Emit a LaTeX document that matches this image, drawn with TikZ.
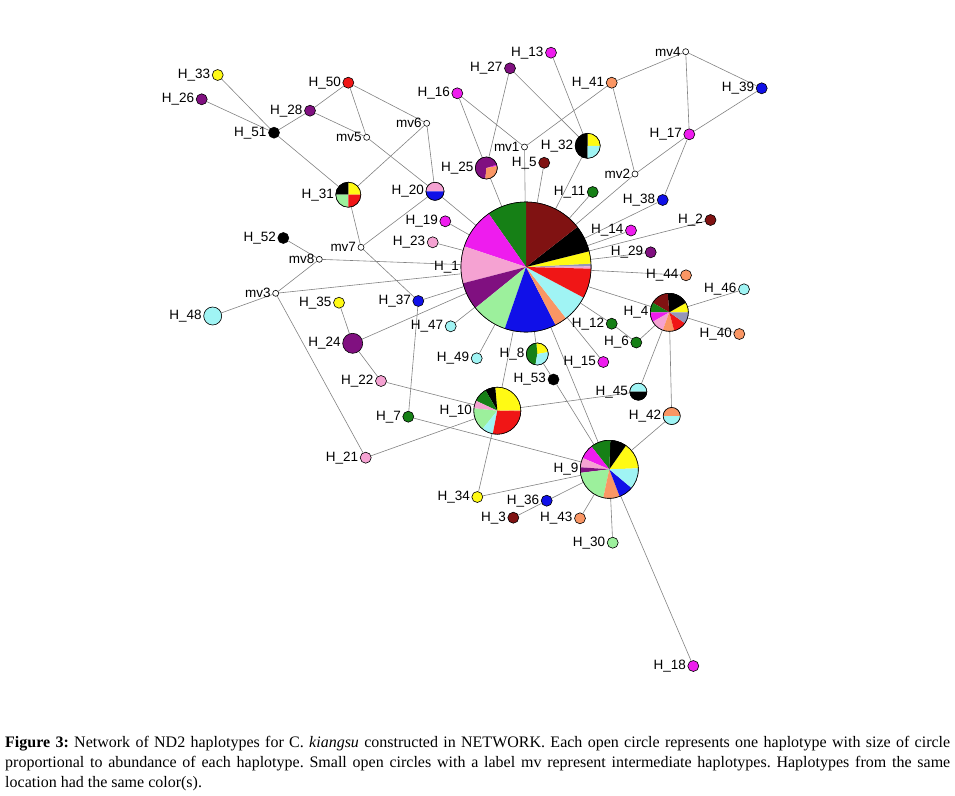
\documentclass[tikz,border=0pt]{standalone}
\usepackage{fontspec}
\setmainfont{Liberation Serif}
\setsansfont{Liberation Sans}
\usepackage{xcolor}
\usepackage{tikz}
\usetikzlibrary{backgrounds}
\definecolor{hyellow}{RGB}{255,250,20}
\definecolor{hpurple}{RGB}{128,16,128}
\definecolor{hred}{RGB}{240,22,22}
\definecolor{hmagenta}{RGB}{238,28,238}
\definecolor{hsalmon}{RGB}{250,150,100}
\definecolor{hblue}{RGB}{16,16,232}
\definecolor{hdarkred}{RGB}{128,18,18}
\definecolor{hgreen}{RGB}{22,128,22}
\definecolor{hpink}{RGB}{245,162,210}
\definecolor{hcyan}{RGB}{160,244,244}
\definecolor{hlightgreen}{RGB}{156,240,156}
\definecolor{hgray}{RGB}{150,150,186}
\definecolor{linkgray}{RGB}{130,130,130}

% wedges of a haplotype pie: node, radius, list start/end/colour
\newcommand{\piewedges}[3]{%
  \foreach \a/\b/\c in {#3}
    \fill[\c] (#1.center) -- ++(\a:#2) arc[start angle=\a, end angle=\b, radius=#2] -- cycle;
  \draw[line width=0.6pt] (#1.center) circle[radius=#2];
}

\begin{document}
\begin{tikzpicture}[
    x=1pt, y=1pt,
    hap/.style={circle, draw=black, line width=0.6pt, inner sep=0pt, minimum size=11pt},
    mv/.style={circle, draw=black, fill=white, line width=0.6pt, inner sep=0pt, minimum size=6pt},
    link/.style={draw=linkgray, line width=0.6pt},
    every label/.style={font=\sffamily\fontsize{13.5}{16}\selectfont, inner sep=0pt},
    label distance=1.5pt,
]
    \useasboundingbox (0,0) rectangle (955,-795);

    % single-colour haplotypes
    \node[hap, fill=hdarkred, label=left:H\_2] (h2) at (710.5,-220) {};
    \node[hap, fill=hdarkred, label=left:H\_3] (h3) at (513.3,-517.7) {};
    \node[hap, fill=hdarkred, label=left:H\_5] (h5) at (544.2,-162.8) {};
    \node[hap, fill=hgreen, label=left:H\_6] (h6) at (636.3,-342.5) {};
    \node[hap, fill=hgreen, label=left:H\_7] (h7) at (408.3,-416.7) {};
    \node[hap, fill=hgreen, label=left:H\_11] (h11) at (592.7,-192) {};
    \node[hap, fill=hgreen, label=left:H\_12] (h12) at (611.7,-323.7) {};
    \node[hap, fill=hmagenta, label=left:H\_13] (h13) at (551,-52.7) {};
    \node[hap, fill=hmagenta, label=left:H\_14] (h14) at (631,-230.5) {};
    \node[hap, fill=hmagenta, label=left:H\_15] (h15) at (603.3,-362) {};
    \node[hap, fill=hmagenta, label=left:H\_16] (h16) at (457.3,-93.3) {};
    \node[hap, fill=hmagenta, label=left:H\_17] (h17) at (689.3,-134.3) {};
    \node[hap, fill=hmagenta, label=left:H\_18] (h18) at (693.3,-666) {};
    \node[hap, fill=hmagenta, label=left:H\_19] (h19) at (445.3,-221.3) {};
    \node[hap, fill=hpink, label=left:H\_21] (h21) at (365.7,-457.7) {};
    \node[hap, fill=hpink, label=left:H\_22] (h22) at (381,-381) {};
    \node[hap, fill=hpink, label=left:H\_23] (h23) at (432.7,-242.3) {};
    \node[hap, fill=hpurple, minimum size=20pt, label=left:H\_24] (h24) at (352.7,-343.3) {};
    \node[hap, fill=hpurple, label=left:H\_26] (h26) at (201.7,-99.3) {};
    \node[hap, fill=hpurple, label=left:H\_27] (h27) at (510,-68.3) {};
    \node[hap, fill=hpurple, label=left:H\_28] (h28) at (310,-110.7) {};
    \node[hap, fill=hpurple, label=left:H\_29] (h29) at (650.7,-252.3) {};
    \node[hap, fill=hlightgreen, label=left:H\_30] (h30) at (612.7,-542.7) {};
    \node[hap, fill=hyellow, label=left:H\_33] (h33) at (217.7,-75) {};
    \node[hap, fill=hyellow, label=left:H\_34] (h34) at (477.3,-497) {};
    \node[hap, fill=hyellow, label=left:H\_35] (h35) at (339,-302.7) {};
    \node[hap, fill=hblue, label=left:H\_36] (h36) at (546.7,-500.7) {};
    \node[hap, fill=hblue, label=left:H\_37] (h37) at (418.3,-301) {};
    \node[hap, fill=hblue, label=left:H\_38] (h38) at (662.7,-200) {};
    \node[hap, fill=hblue, label=left:H\_39] (h39) at (761.7,-88.3) {};
    \node[hap, fill=hsalmon, label=left:H\_40] (h40) at (739.3,-334) {};
    \node[hap, fill=hsalmon, label=left:H\_41] (h41) at (611.7,-82.7) {};
    \node[hap, fill=hsalmon, label=left:H\_43] (h43) at (580,-518.3) {};
    \node[hap, fill=hsalmon, label=left:H\_44] (h44) at (686,-275.3) {};
    \node[hap, fill=hcyan, label=left:H\_46] (h46) at (744,-289.3) {};
    \node[hap, fill=hcyan, label=left:H\_47] (h47) at (450.7,-326.3) {};
    \node[hap, fill=hcyan, minimum size=18pt, label=left:H\_48] (h48) at (212.7,-316) {};
    \node[hap, fill=hcyan, label=left:H\_49] (h49) at (476.7,-358.3) {};
    \node[hap, fill=hred, label=left:H\_50] (h50) at (348.3,-82.7) {};
    \node[hap, fill=black, label=left:H\_51] (h51) at (274,-132.7) {};
    \node[hap, fill=black, label=left:H\_52] (h52) at (283.3,-238) {};
    \node[hap, fill=black, label=left:H\_53] (h53) at (553.5,-379.5) {};

    % shared haplotypes, filled as pies below
    \node[hap, fill=white, minimum size=130pt, label=left:H\_1] (h1) at (526,-267) {};
    \node[hap, fill=white, minimum size=38pt, label=left:H\_4] (h4) at (669.3,-312.3) {};
    \node[hap, fill=white, minimum size=22pt, label=left:H\_8] (h8) at (537.3,-354) {};
    \node[hap, fill=white, minimum size=58pt, label=left:H\_9] (h9) at (609.3,-469.3) {};
    \node[hap, fill=white, minimum size=47pt, label=left:H\_10] (h10) at (497.3,-410.7) {};
    \node[hap, fill=white, minimum size=18pt, label=left:H\_20] (h20) at (435,-191.3) {};
    \node[hap, fill=white, minimum size=22pt, label=left:H\_25] (h25) at (486.3,-168) {};
    \node[hap, fill=white, minimum size=25pt, label=left:H\_31] (h31) at (348.3,-194.7) {};
    \node[hap, fill=white, minimum size=25pt, label=left:H\_32] (h32) at (587.7,-145.8) {};
    \node[hap, fill=white, minimum size=17pt, label=left:H\_42] (h42) at (671.7,-416) {};
    \node[hap, fill=white, minimum size=17pt, label=left:H\_45] (h45) at (638.3,-391.7) {};

    % median vectors
    \node[mv, label=left:mv1] (mv1) at (524.5,-147) {};
    \node[mv, label=left:mv2] (mv2) at (635,-174) {};
    \node[mv, label=left:mv3] (mv3) at (275.7,-293.3) {};
    \node[mv, label=left:mv4] (mv4) at (685.7,-51.7) {};
    \node[mv, label=left:mv5] (mv5) at (366.7,-137.3) {};
    \node[mv, label=left:mv6] (mv6) at (426.7,-123.3) {};
    \node[mv, label=left:mv7] (mv7) at (361,-247.3) {};
    \node[mv, label=left:mv8] (mv8) at (319.3,-259.3) {};

    \piewedges{h1}{65pt}{0.5/3/hgray, -1.5/0.5/hpink, 3/14/hyellow, 14/38/black, 38/90/hdarkred,
        90/125/hgreen, 125/161.5/hmagenta, 161.5/194.5/hpink, 194.5/219/hpurple,
        219/251/hlightgreen, 251/297/hblue, 297/308/hsalmon, 308/332/hcyan, 332/358.5/hred}
    \piewedges{h4}{19pt}{0/30/hyellow, 30/95/black, 95/150/hdarkred, 150/180/hgreen,
        180/210/hmagenta, 210/250/hpink, 250/285/hsalmon, 285/325/hred, 325/360/hgray}
    \piewedges{h9}{29pt}{2/55/hyellow, 55/88/black, 88/128/hgreen, 128/157/hmagenta,
        157/176/hpink, 176/187/hpurple, 187/258/hlightgreen, 258/291/hsalmon,
        291/320/hblue, 320/362/hcyan}
    \piewedges{h10}{23.5pt}{0/95/hyellow, 95/120/black, 120/155/hgreen, 155/174/hpink,
        174/231/hlightgreen, 231/259/hcyan, 259/359/hred, 359/361/hsalmon}
    \piewedges{h8}{11pt}{10/95/hyellow, 95/260/hgreen, 260/370/hcyan}
    \piewedges{h31}{12.5pt}{0/90/hyellow, 90/180/black, 180/270/hlightgreen, 270/360/hred}
    \piewedges{h32}{12.5pt}{0/90/hyellow, 90/270/black, 270/360/hcyan}
    \piewedges{h20}{9pt}{0/180/hpink, 180/360/hblue}
    \piewedges{h25}{11pt}{10/18/hmagenta, 18/265/hpurple, 265/370/hsalmon}
    \piewedges{h42}{8.5pt}{0/180/hsalmon, 180/360/hcyan}
    \piewedges{h45}{8.5pt}{0/180/hcyan, 180/360/black}

    % mutational links
    \begin{scope}[on background layer]
    \foreach \u/\v in {h33/h51, h26/h51, h51/h28, h28/h50, h28/mv5, h50/mv5, h50/mv6,
        mv5/h20, mv6/h31, mv6/h20, h51/h31, h31/mv7, mv7/h20, mv7/h37, h52/mv8,
        mv8/h1, mv8/mv3, mv3/h1, mv3/h48, mv3/h21, h35/h24, h24/h1, h24/h22,
        h37/h1, h37/h7, h47/h1, h19/h1, h23/h1, h20/h1, h13/h32, h27/h32, h27/h25,
        h16/h25, h16/mv1, mv1/h41, mv1/h1, h25/h1, h5/h1, h32/h1, h11/h1,
        h41/mv4, h41/mv2, mv4/h39, mv4/h17, h39/h17, h17/mv2, mv2/h1, h17/h38,
        h38/h1, h2/h1, h14/h1, h29/h1, h44/h1, h1/h4, h4/h46, h4/h40, h4/h6,
        h12/h6, h12/h1, h4/h45, h4/h42, h22/h10, h7/h9, h10/h21, h49/h1, h10/h1,
        h10/h45, h10/h34, h34/h9, h53/h9, h8/h1, h8/h53, h1/h9, h15/h1, h42/h9,
        h3/h36, h36/h9, h43/h9, h30/h9, h18/h9}
        \draw[link] (\u) -- (\v);
    \end{scope}

    \node[anchor=north west, text width=945pt, align=justify, inner sep=0pt,
        font=\rmfamily\fontsize{16}{20}\selectfont\frenchspacing] (caption) at (5,-736)
        {\textbf{Figure 3:} Network of ND2 haplotypes for C. \textit{kiangsu} constructed in NETWORK. Each open circle represents one haplotype with size of circle\linebreak
        proportional to abundance of each haplotype. Small open circles with a label mv represent intermediate haplotypes. Haplotypes from the same\linebreak
        location had the same color(s).};
\end{tikzpicture}
\end{document}
